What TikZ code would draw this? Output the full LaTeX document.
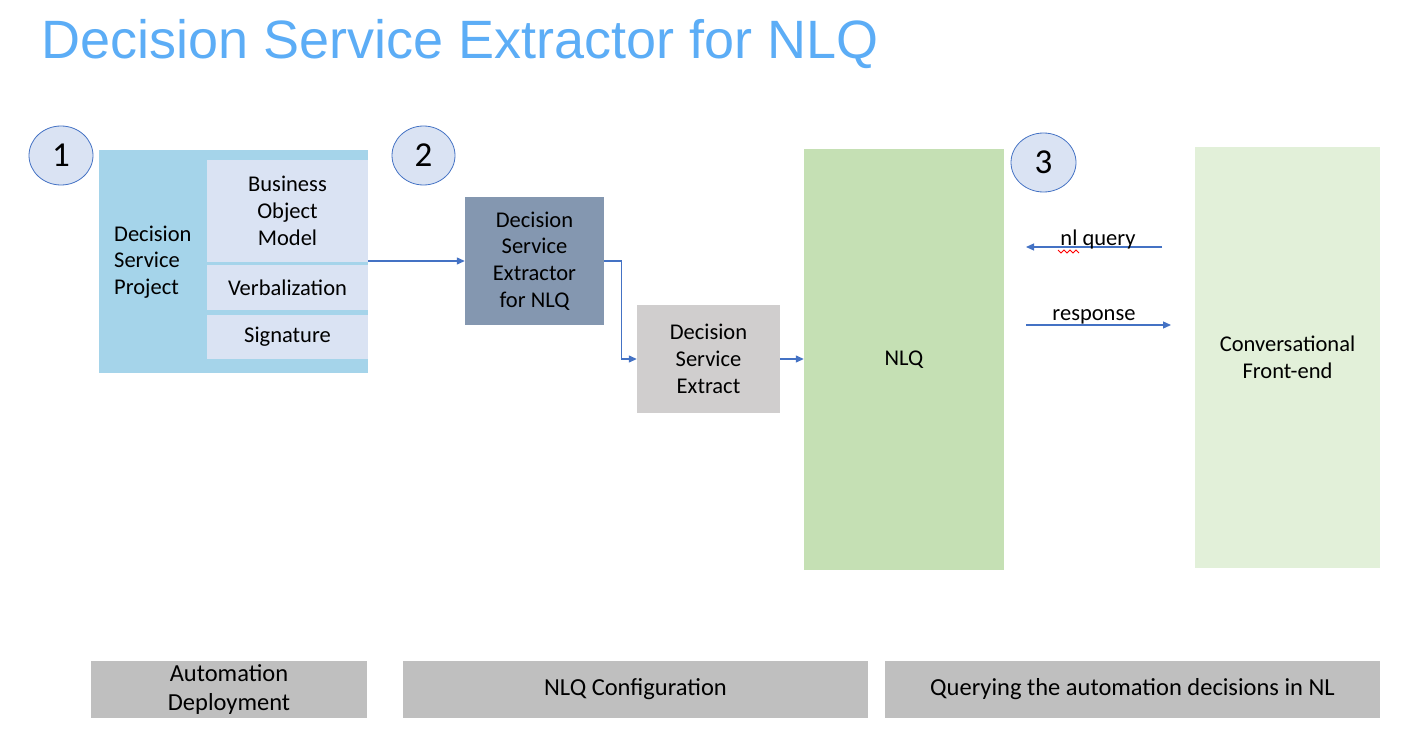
\documentclass[tikz,border=0pt]{standalone}
\usepackage{fontspec}
\setmainfont{Carlito}
\newfontfamily\titlefont{Liberation Sans}
\usetikzlibrary{arrows.meta,shapes.geometric}
\definecolor{titleblue}{HTML}{5CADF6}
\definecolor{circfill}{HTML}{DAE3F3}
\definecolor{circline}{HTML}{4472C4}
\definecolor{dspblue}{HTML}{A5D4EA}
\definecolor{subfill}{HTML}{DAE3F3}
\definecolor{dsefill}{HTML}{8497B0}
\definecolor{extfill}{HTML}{D0CECE}
\definecolor{nlqfill}{HTML}{C5E0B4}
\definecolor{convfill}{HTML}{E2F0D9}
\definecolor{barfill}{HTML}{BFBFBF}
\definecolor{arrblue}{HTML}{4472C4}
\tikzset{
  box/.style={draw=none, inner sep=0pt, align=center,
    font=\fontsize{22.5}{26.8}\selectfont},
  barbox/.style={box, fill=barfill, minimum height=57pt,
    font=\fontsize{24.5}{29}\selectfont},
  numcirc/.style={ellipse, draw=circline, line width=0.8pt, fill=circfill,
    inner sep=0pt, font=\fontsize{35}{35}\selectfont},
  arr/.style={draw=arrblue, line width=1.2pt,
    -{Triangle[length=8pt,width=7pt]}},
  lbl/.style={inner sep=0pt, font=\fontsize{22.5}{26.8}\selectfont},
}
\begin{document}
\begin{tikzpicture}[x=1pt,y=-1pt]
\useasboundingbox (0,0) rectangle (1418,754);
% title
\node[anchor=base west, inner sep=0pt, text=titleblue,
  font=\titlefont\fontsize{54}{54}\selectfont] (title) at (41,59)
  {Decision Service Extractor for NLQ};
% numbered circles
\node[numcirc, minimum width=64pt, minimum height=59pt] (c1) at (61,155.5) {1};
\node[numcirc, minimum width=63pt, minimum height=59pt] (c2) at (423.5,155.5) {2};
\node[numcirc, minimum width=65pt, minimum height=59pt] (c3) at (1043.5,162.5) {3};
% decision service project
\node[box, fill=dspblue, minimum width=269pt, minimum height=223pt] (dsp) at (233.5,261.5) {};
\node[box, fill=subfill, minimum width=161pt, minimum height=102pt] (bom) at (287.5,211) {Business\\Object\\Model};
\node[box, fill=subfill, minimum width=161pt, minimum height=45pt] (verb) at (287.5,287.5) {Verbalization};
\node[box, fill=subfill, minimum width=161pt, minimum height=44pt] (sig) at (287.5,337) {Signature};
\node[box, anchor=west, align=left] (dsplbl) at (114,262) {Decision\\Service\\Project};
% extractor
\node[box, fill=dsefill, minimum width=139pt, minimum height=128pt] (dse) at (534.5,261) {Decision\\Service\\Extractor\\for NLQ};
\node[box, fill=extfill, minimum width=143pt, minimum height=108pt] (ext) at (708.5,359) {Decision\\Service\\Extract};
% NLQ
\node[box, fill=nlqfill, minimum width=200pt, minimum height=421pt] (nlq) at (904,359.5) {NLQ};
\node[box, fill=convfill, minimum width=185pt, minimum height=421pt] (conv) at (1287.5,357.5) {Conversational\\Front-end};
% connectors
\draw[arr] (dsp.east |- dse.west) -- (dse.west);
\draw[arr] (dse.east) -- ++(17,0) |- (ext.west);
\draw[arr] (ext.east) -- (nlq.west |- ext.east);
\coordinate (q1) at (1162,247);
\coordinate (q2) at (1026,247);
\coordinate (r1) at (1026,325);
\coordinate (r2) at (1171,325);
\draw[arr] (q1) -- (q2);
\draw[arr] (r1) -- (r2);
\node[lbl, anchor=base] (qlbl) at (1098,245) {nl query};
\node[lbl, anchor=base] (rlbl) at (1094,320) {response};
\draw[red, line width=0.8pt] (1058,250) -- (1061,253) -- (1064,250) -- (1067,253) -- (1070,250) -- (1073,253) -- (1076,250) -- (1079,253);
% bottom bars
\node[barbox, minimum width=276pt] (b1) at (229,689.5) {Automation\\Deployment};
\node[barbox, minimum width=465pt] (b2) at (635.5,689.5) {NLQ Configuration};
\node[barbox, minimum width=495pt] (b3) at (1132.5,689.5) {Querying the automation decisions in NL};
\end{tikzpicture}
\end{document}
